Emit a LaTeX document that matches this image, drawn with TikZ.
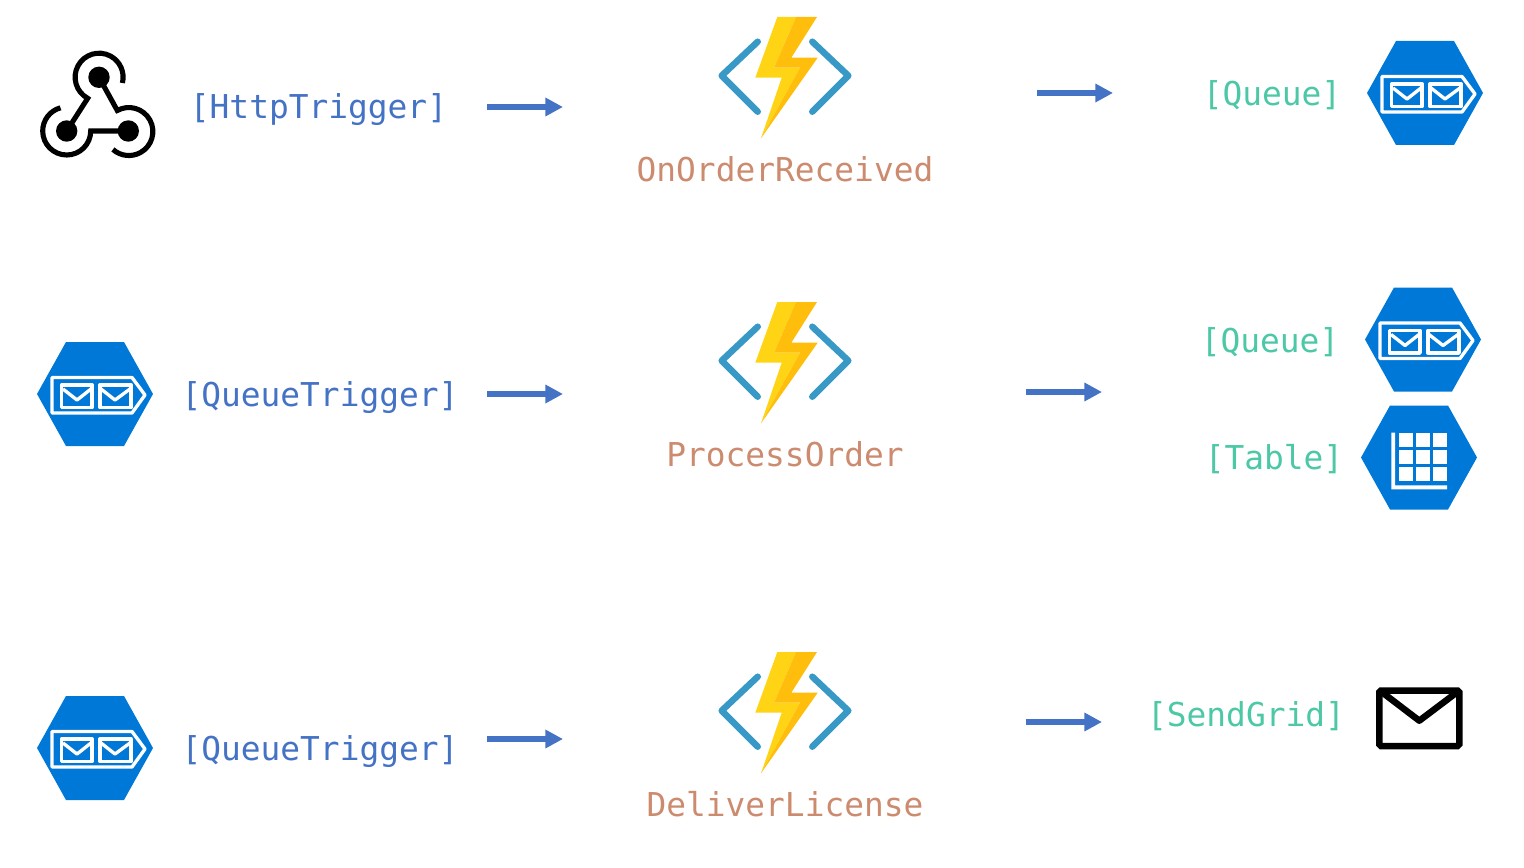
\documentclass[tikz,border=0pt]{standalone}
\usepackage{fontspec}
\setmonofont{DejaVu Sans Mono}
\usetikzlibrary{arrows.meta}
\definecolor{azureblue}{HTML}{0078D7}
\definecolor{funcblue}{HTML}{3999C6}
\definecolor{boltlight}{HTML}{FFD414}
\definecolor{boltdark}{HTML}{FFBE0B}
\definecolor{triggerblue}{HTML}{4472C4}
\definecolor{funcname}{HTML}{CC8B6F}
\definecolor{bindgreen}{HTML}{4CC8A6}
\tikzset{
	trigger/.style={font=\ttfamily\fontsize{18.7}{22}\selectfont, text=triggerblue},
	funcLabel/.style={font=\ttfamily\fontsize{18.7}{22}\selectfont, text=funcname},
	binding/.style={font=\ttfamily\fontsize{18.7}{22}\selectfont, text=bindgreen},
	flow/.style={line width=3pt, color=triggerblue, -{Triangle[length=10pt,width=10pt]}},
	whiteline/.style={draw=white, line width=1.9pt, line join=round}
}
\def\hexagon{\fill[azureblue] (-58,0) -- (-29,52) -- (29,52) -- (58,0) -- (29,-52) -- (-29,-52) -- cycle;}
\def\queueicon(#1,#2){\begin{scope}[shift={(#1,#2)}]
	\hexagon
	\draw[whiteline] (-43,16.5) -- (37,16.5) -- (50,-1) -- (37,-19) -- (-43,-19) -- cycle;
	\draw[whiteline] (-33.5,9) rectangle (-3,-13.5);
	\draw[whiteline] (-32,5) -- (-18,-6) -- (-4,5);
	\draw[whiteline] (5,9) rectangle (36,-13.5);
	\draw[whiteline] (6,5) -- (20,-6) -- (35,5);
\end{scope}}
\def\tableicon(#1,#2){\begin{scope}[shift={(#1,#2)}]
	\hexagon
	\fill[white] (-27.7,24.8) -- (-24,24.8) -- (-24,-27.8) -- (28,-27.8) -- (28,-31.8) -- (-27.7,-31.8) -- cycle;
	\foreach \col in {-19.7,-2.7,14.3}
		\foreach \row in {10.8,-6.5,-23.8}
			\fill[white] (\col,\row) rectangle +(13.8,14);
\end{scope}}
\def\funcicon(#1,#2){\begin{scope}[shift={(#1,#2)}]
	\draw[funcblue, line width=3.7pt, line cap=round, line join=round] (-27.3,35.3) -- (-63.3,1.3) -- (-27.3,-34.7);
	\draw[funcblue, line width=3.7pt, line cap=round, line join=round] (27.3,35.3) -- (63.3,1.3) -- (27.3,-34.7);
	\fill[boltlight] (-7.7,60) -- (11,60) -- (-11,9.3) -- (15,9.3) -- (-24,-61.3) -- (-3.3,-0.7) -- (-29.7,-0.7) -- cycle;
	\fill[boltdark] (11,60) -- (32,60) -- (6.3,19.3) -- (32.7,19.3) -- (-24,-61.3) -- (15,9.3) -- (-11,9.3) -- cycle;
\end{scope}}

\begin{document}
\begin{tikzpicture}[x=0.02cm, y=0.02cm]
	\useasboundingbox (0,0) rectangle (1524,867);

	%%%%% first row %%%%%
	\begin{scope}[line width=2.9pt, line cap=butt]
		\fill (99,789.7) circle (10.7);
		\fill (66.7,736) circle (10.7);
		\fill (128.3,736) circle (10.7);
		\draw (99,789.7) -- (117.3,756.5) arc[start angle=118.8, end angle=-131.6, radius=24];
		\draw (66.7,736) -- (87.7,768.7) arc[start angle=241.6, end angle=-14, radius=24];
		\draw (128.3,736) -- (90.7,736) arc[start angle=0, end angle=-255, radius=24];
	\end{scope}
	\node[trigger] (httptrigger) at (318.5,757) {[HttpTrigger]};
	\coordinate (a1) at (487,760);
	\coordinate (a2) at (563,760);
	\draw[flow] (a1) -- (a2);
	\funcicon(785,790)
	\node[funcLabel] (received) at (785,698) {OnOrderReceived};
	\coordinate (b1) at (1037,774);
	\coordinate (b2) at (1113,774);
	\draw[flow] (b1) -- (b2);
	\node[binding] (queueout) at (1272,772) {[Queue]};
	\queueicon(1425,774)

	%%%%% second row %%%%%
	\queueicon(95,473)
	\node[trigger] (queuetrigger) at (320,469) {[QueueTrigger]};
	\coordinate (c1) at (487,473);
	\coordinate (c2) at (563,473);
	\draw[flow] (c1) -- (c2);
	\funcicon(785,505)
	\node[funcLabel] (process) at (785,413) {ProcessOrder};
	\coordinate (d1) at (1026,475);
	\coordinate (d2) at (1102,475);
	\draw[flow] (d1) -- (d2);
	\node[binding] (queuetwo) at (1270,525) {[Queue]};
	\queueicon(1423,527.5)
	\node[binding] (table) at (1274,408) {[Table]};
	\tableicon(1419,409.5)

	%%%%% third row %%%%%
	\queueicon(95,119)
	\node[trigger] (queuetriggertwo) at (320,115) {[QueueTrigger]};
	\coordinate (e1) at (487,128);
	\coordinate (e2) at (563,128);
	\draw[flow] (e1) -- (e2);
	\funcicon(785,155)
	\node[funcLabel] (deliver) at (785,63) {DeliverLicense};
	\coordinate (f1) at (1026,145);
	\coordinate (f2) at (1102,145);
	\draw[flow] (f1) -- (f2);
	\node[binding] (sendgrid) at (1246,151) {[SendGrid]};
	\draw[line width=3.7pt, rounded corners=1pt] (1379.3,176.5) rectangle (1459.3,121);
	\draw[line width=3.7pt, line join=round] (1383,174) -- (1419.3,146.3) -- (1456,174);
\end{tikzpicture}
\end{document}
